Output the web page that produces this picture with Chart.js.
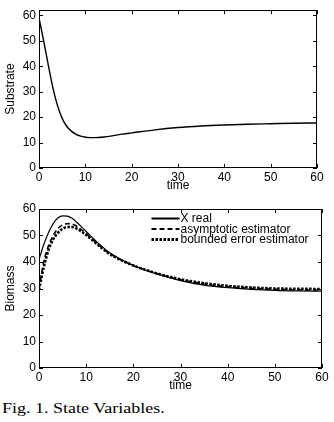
<!DOCTYPE html>
<html>
<head>
<meta charset="utf-8">
<script src="https://cdn.jsdelivr.net/npm/chart.js@4/dist/chart.umd.min.js"></script>
<style>
  body { margin: 0; background: #fff; width: 334px; height: 422px; position: relative; overflow: hidden; }
  .wrap { position: absolute; left: 0; }
  #cap { position: absolute; left: 2px; top: 400px; font: 15px "Liberation Serif", serif; color: #000;
         transform: scaleX(1.2); transform-origin: left top; white-space: nowrap; }
</style>
</head>
<body>
<div class="wrap" style="top:0"><canvas id="top" width="334" height="195"></canvas></div>
<div class="wrap" style="top:195px"><canvas id="bottom" width="334" height="200"></canvas></div>
<div id="cap">Fig. 1. State Variables.</div>
<script>
// substrate
const substrateTime = [0, 1, 2, 3, 4, 5, 6, 7, 8, 9, 10, 11, 12, 14, 16, 18, 20, 25, 30, 35, 40, 45, 50, 55, 60];
const substrate = [59, 50, 40.5, 31.5, 24.5, 19.5, 16.3, 14.5, 13.2, 12.5, 12.1, 11.95, 11.95, 12.2, 12.7, 13.3, 13.8, 15.0, 15.9, 16.5, 16.9, 17.2, 17.4, 17.6, 17.7];

// biomass
const biomassTime = [0, 1, 2, 3, 4, 5, 6, 7, 8, 10, 12, 15, 20, 25, 30, 35, 40, 45, 50, 55, 60];
const xReal = [41, 46.5, 51, 54.5, 56.6, 57.4, 57.3, 56.5, 55, 51.5, 48, 43.5, 38.7, 35.5, 33, 31.3, 30.3, 29.7, 29.3, 29.1, 29.0];
const asymptotic = [30, 40, 46, 50, 52.6, 54, 54.5, 54.3, 53.5, 50.7, 47.5, 43.2, 38.7, 35.6, 33.3, 31.7, 30.7, 30.1, 29.7, 29.5, 29.4];
const bounded = [29.5, 38, 44.5, 48.5, 51, 52.5, 53.2, 53.2, 52.6, 50.2, 47.2, 43, 38.7, 35.7, 33.5, 32, 31, 30.4, 30, 29.9, 29.8];
const seriesNames = ['X real', 'asymptotic estimator', 'bounded error estimator'];

const xTicks = [0, 10, 20, 30, 40, 50, 60];
const yTicks = [0, 10, 20, 30, 40, 50, 60];

const font = { family: '"Liberation Sans", Arial, sans-serif', size: 12 };

const pts = (t, v) => t.map((x, i) => ({ x, y: v[i] }));

// matlab style box with inward ticks
const boxPlugin = {
  id: 'box',
  afterDraw(chart) {
    const { ctx, chartArea: a, scales } = chart;
    ctx.save();
    ctx.strokeStyle = '#000';
    ctx.lineWidth = 1;
    ctx.strokeRect(Math.round(a.left) + 0.5, Math.round(a.top) + 0.5, Math.round(a.width) - 1, Math.round(a.height) - 1);
    ctx.beginPath();
    scales.x.ticks.forEach(t => {
      const px = Math.round(scales.x.getPixelForValue(t.value)) + 0.5;
      ctx.moveTo(px, a.bottom); ctx.lineTo(px, a.bottom - 4);
      ctx.moveTo(px, a.top); ctx.lineTo(px, a.top + 4);
    });
    scales.y.ticks.forEach(t => {
      const py = Math.round(scales.y.getPixelForValue(t.value)) + 0.5;
      ctx.moveTo(a.left, py); ctx.lineTo(a.left + 4, py);
      ctx.moveTo(a.right, py); ctx.lineTo(a.right - 4, py);
    });
    ctx.stroke();
    ctx.restore();
  }
};

const innerLegend = {
  id: 'innerLegend',
  afterDraw(chart, args, opts) {
    if (!opts.show) return;
    const { ctx, chartArea: a } = chart;
    ctx.save();
    ctx.font = font.size + 'px ' + font.family;
    ctx.textBaseline = 'middle';
    ctx.fillStyle = '#000';
    chart.data.datasets.forEach((ds, i) => {
      const y = a.top + 9.5 + i * 10.5;
      const x0 = a.left + 112.5;
      ctx.strokeStyle = ds.borderColor;
      ctx.lineWidth = ds.legendWidth || ds.borderWidth;
      ctx.setLineDash(ds.borderDash || []);
      ctx.beginPath();
      ctx.moveTo(x0, y); ctx.lineTo(x0 + 28, y);
      ctx.stroke();
      ctx.setLineDash([]);
      ctx.fillText(ds.label, x0 + 29, y + 0.5);
    });
    ctx.restore();
  }
};

function axes(yMax, yTitle, yWidth, xHeight) {
  return {
    x: {
      type: 'linear', min: 0, max: 60,
      afterBuildTicks: s => { s.ticks = xTicks.map(v => ({ value: v })); },
      afterFit: s => { s.height = xHeight; },
      grid: { display: false, drawTicks: false },
      border: { display: false },
      ticks: { color: '#000', font, padding: 2, maxRotation: 0 },
      title: { display: true, text: 'time', color: '#000', font, padding: { top: 0, bottom: 2 } }
    },
    y: {
      type: 'linear', min: 0, max: yMax,
      afterBuildTicks: s => { s.ticks = yTicks.map(v => ({ value: v })); },
      afterFit: s => { s.width = yWidth; },
      grid: { display: false, drawTicks: false },
      border: { display: false },
      ticks: { color: '#000', font, padding: 3 },
      title: { display: true, text: yTitle, color: '#000', font, padding: { top: 3, bottom: 0 } }
    }
  };
}

new Chart(document.getElementById('top'), {
  type: 'line',
  data: {
    datasets: [{
      label: 'Substrate',
      data: pts(substrateTime, substrate),
      borderColor: '#000',
      borderWidth: 1.4,
      pointRadius: 0,
      cubicInterpolationMode: 'monotone'
    }]
  },
  options: {
    responsive: false,
    animation: false,
    layout: { padding: { top: 7, right: 17, left: 0, bottom: 0 } },
    scales: axes(62, 'Substrate', 39, 27),
    plugins: { legend: { display: false }, tooltip: { enabled: false } }
  },
  plugins: [boxPlugin]
});

new Chart(document.getElementById('bottom'), {
  type: 'line',
  data: {
    datasets: [
      { label: seriesNames[0], data: pts(biomassTime, xReal), borderColor: '#000', borderWidth: 1.2, legendWidth: 2,
        pointRadius: 0, cubicInterpolationMode: 'monotone' },
      { label: seriesNames[1], data: pts(biomassTime, asymptotic), borderColor: '#000', borderWidth: 1.6, legendWidth: 2,
        borderDash: [5, 3], pointRadius: 0, cubicInterpolationMode: 'monotone' },
      { label: seriesNames[2], data: pts(biomassTime, bounded), borderColor: '#000', borderWidth: 2.6, legendWidth: 3,
        borderDash: [2.5, 1.5], pointRadius: 0, cubicInterpolationMode: 'monotone' }
    ]
  },
  options: {
    responsive: false,
    animation: false,
    layout: { padding: { top: 14, right: 12, left: 0, bottom: 0 } },
    scales: axes(60, 'Biomass', 39, 27),
    plugins: { legend: { display: false }, tooltip: { enabled: false }, innerLegend: { show: true } }
  },
  plugins: [boxPlugin, innerLegend]
});
</script>
</body>
</html>
